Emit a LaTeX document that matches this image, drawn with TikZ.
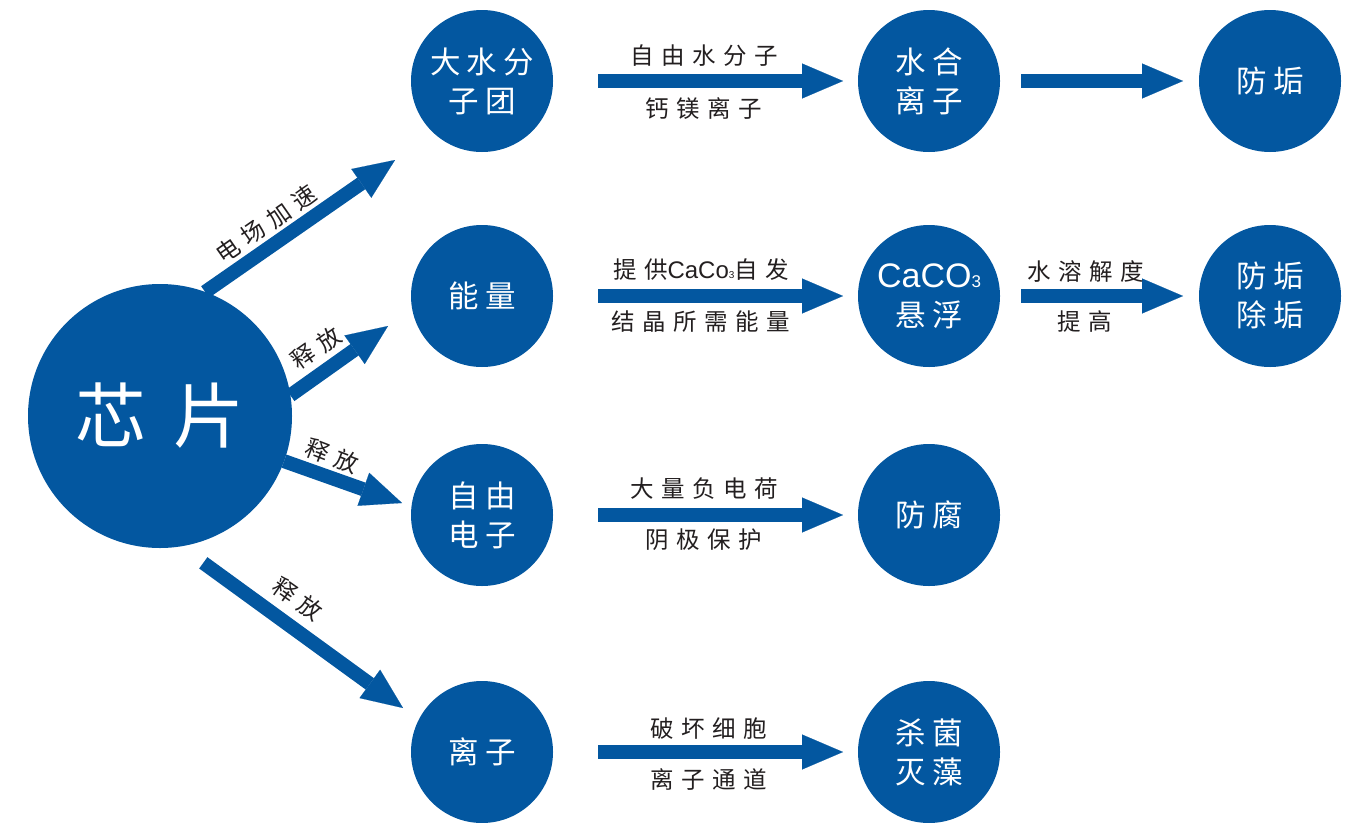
\documentclass[tikz,border=0pt]{standalone}
\usepackage{fontspec}
\setmainfont{Noto Sans CJK SC}
\newfontfamily\lblfont[LetterSpace=32]{Noto Sans CJK SC}
\newfontfamily\circfont[LetterSpace=20]{Noto Sans CJK SC}
\newfontfamily\bigfont[LetterSpace=38]{Noto Sans CJK SC}
\newfontfamily\lat{Liberation Sans}
\usetikzlibrary{arrows.meta}
\definecolor{blu}{RGB}{3,87,160}
\definecolor{txt}{RGB}{35,31,32}
\begin{document}
\begin{tikzpicture}[x=1pt,y=-1pt,
  circ/.style={circle, fill=blu, minimum size=142pt, inner sep=0pt, outer sep=0pt, text=white, align=center, font=\circfont\fontsize{30.5}{39}\selectfont},
  chipnode/.style={circle, fill=blu, minimum size=264pt, inner sep=0pt, outer sep=0pt, text=white, font=\bigfont\fontsize{71}{80}\selectfont},
  lbl/.style={text=txt, inner sep=0pt, font=\lblfont\fontsize{23.5}{26}\selectfont},
  arr/.style={draw=blu, line width=14pt, -{Triangle[length=41pt,width=35pt,line width=0.1pt]}},
]
\fill[white] (0,0) rectangle (1354,822);
\useasboundingbox (0,0) rectangle (1354,822);

\node[chipnode] (chip) at (160,416) {芯片};
\node[circ] (a1) at (482,81) {大水分\\子团};
\node[circ] (a2) at (482,296) {能量};
\node[circ] (a3) at (482,515) {自由\\电子};
\node[circ] (a4) at (482,752) {离子};
\node[circ] (b1) at (929,81) {水合\\离子};
\node[circ] (b2) at (929,296) {{\lat\fontsize{34}{39}\selectfont CaCO{\fontsize{17}{17}\selectfont 3}}\\悬浮};
\node[circ] (b3) at (929,515) {防腐};
\node[circ] (b4) at (929,752) {杀菌\\灭藻};
\node[circ] (c1) at (1270,81) {防垢};
\node[circ] (c2) at (1270,296) {防垢\\除垢};

\coordinate (h1) at (395,160);
\coordinate (h2) at (388,326);
\coordinate (h3) at (402,503);
\coordinate (h4) at (403,708);
\draw[arr] (chip.70) -- (h1);
\draw[arr] (chip.9) -- (h2);
\draw[arr] (chip.-20) -- (h3);
\draw[arr, shorten <=28pt] (chip.-81.6) -- (h4);

\draw[arr, shorten <=45pt, shorten >=15pt] (a1) -- (b1);
\draw[arr, shorten <=45pt, shorten >=15pt] (a2) -- (b2);
\draw[arr, shorten <=45pt, shorten >=15pt] (a3) -- (b3);
\draw[arr, shorten <=45pt, shorten >=15pt] (a4) -- (b4);
\draw[arr, shorten <=21pt, shorten >=16pt] (b1) -- (c1);
\draw[arr, shorten <=21pt, shorten >=16pt] (b2) -- (c2);

\node[lbl, rotate=35] (l1) at (266,224) {电场加速};
\node[lbl, rotate=35] (l2) at (316,348) {释放};
\node[lbl, rotate=-21] (l3) at (332,456) {释放};
\node[lbl, rotate=-35] (l4) at (298,599) {释放};

\node[lbl] (t1) at (704,56) {自由水分子};
\node[lbl] (u1) at (704,109) {钙镁离子};
\node[lbl] (t2) at (701,270) {提供{\lat\fontsize{24}{26}\selectfont CaCo{\fontsize{10}{10}\selectfont 3}}自发};
\node[lbl] (u2) at (701,322) {结晶所需能量};
\node[lbl] (t3) at (704,489) {大量负电荷};
\node[lbl] (u3) at (704,540) {阴极保护};
\node[lbl] (t4) at (709,729) {破坏细胞};
\node[lbl] (u4) at (709,779) {离子通道};
\node[lbl] (v1) at (1086,272) {水溶解度};
\node[lbl] (w1) at (1085,322) {提高};
\end{tikzpicture}
\end{document}
